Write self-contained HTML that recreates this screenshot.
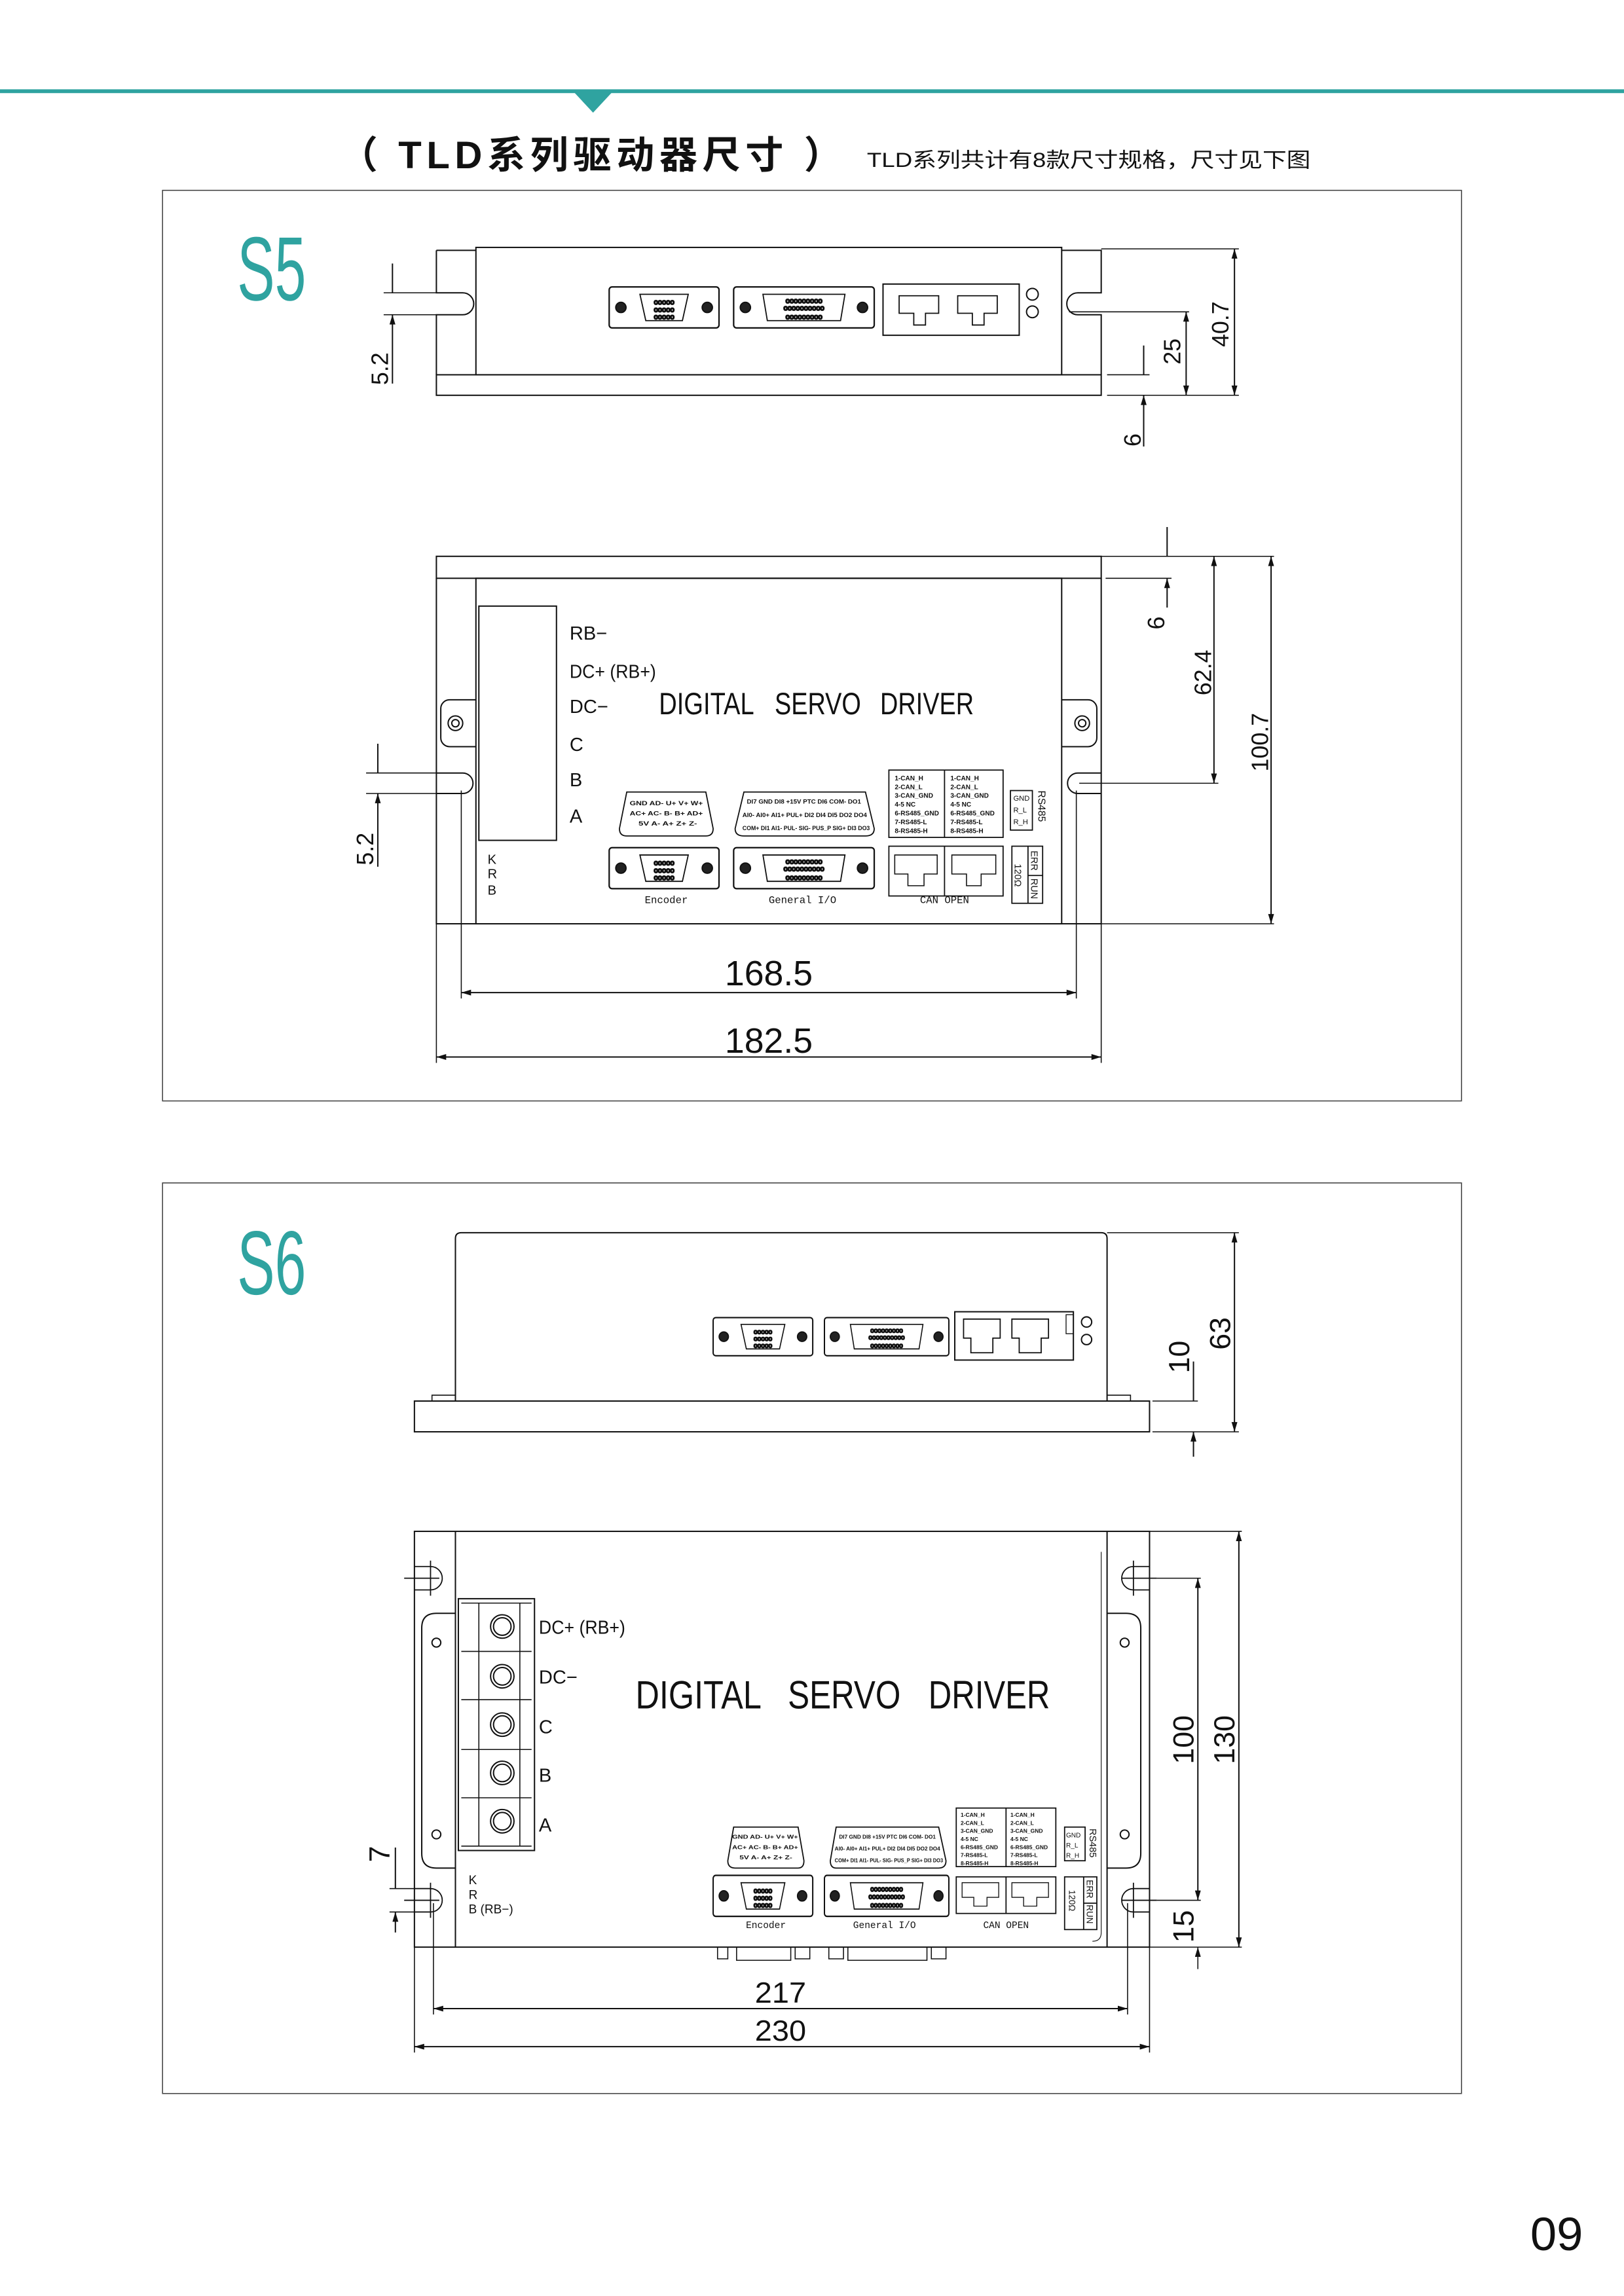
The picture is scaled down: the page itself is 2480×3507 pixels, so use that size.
<!DOCTYPE html>
<html><head><meta charset="utf-8"><style>
html,body{margin:0;padding:0;background:#fff}
svg{display:block}
text{font-family:"Liberation Sans","Noto Sans CJK SC",sans-serif;fill:#111}
</style></head><body>
<svg width="2480" height="3507" viewBox="0 0 1109 1568.3" preserveAspectRatio="none" xmlns="http://www.w3.org/2000/svg">
<defs>
<marker id="a" viewBox="0 0 10 6" refX="10" refY="3" markerWidth="8" markerHeight="4" orient="auto-start-reverse" markerUnits="userSpaceOnUse"><path d="M0,0 L10,3 L0,6z" fill="#111"/></marker>
<g id="db9">
 <rect x="0" y="0" width="75" height="28" rx="2" fill="#fff" stroke="#111" stroke-width="1"/>
 <circle cx="8" cy="14" r="3.5" fill="#222"/><circle cx="67" cy="14" r="3.5" fill="#222"/>
 <path d="M21,5 L54,5 L50,23 L25,23z" fill="none" stroke="#111" stroke-width="0.8"/>
 <text x="37.5" y="12" font-size="5" text-anchor="middle">ooooo</text>
 <text x="37.5" y="17" font-size="5" text-anchor="middle">ooooo</text>
 <text x="37.5" y="22" font-size="5" text-anchor="middle">ooooo</text>
</g>
<g id="db25">
 <rect x="0" y="0" width="96" height="28" rx="2" fill="#fff" stroke="#111" stroke-width="1"/>
 <circle cx="8" cy="14" r="3.5" fill="#222"/><circle cx="88" cy="14" r="3.5" fill="#222"/>
 <path d="M20,5 L76,5 L73,23 L23,23z" fill="none" stroke="#111" stroke-width="0.8"/>
 <text x="48" y="11" font-size="5" text-anchor="middle">ooooooooo</text>
 <text x="48" y="16" font-size="5" text-anchor="middle">oooooooooo</text>
 <text x="48" y="22" font-size="5" text-anchor="middle">ooooooooo</text>
</g>
</defs>
<g stroke="#111" fill="none" stroke-width="0.9">
<rect x="0" y="61" width="1109" height="2.6" fill="#2fa3a0" stroke="none"/>
<path d="M392,63 L418,63 L405,77z" fill="#2fa3a0" stroke="none"/>
<rect x="111" y="130" width="887" height="622" stroke="#444" stroke-width="0.7"/>
<rect x="111" y="808" width="887" height="622" stroke="#444" stroke-width="0.7"/>

<!-- S5 top view -->
<rect x="325" y="169" width="400" height="87"/>
<path d="M298,171 H325 M298,171 V200 H316 A7,7 0 0 1 316,215 H298 V256"/>
<path d="M725,171 H752 V200 H736 A7,7 0 0 0 736,215 H752 V256"/>
<rect x="298" y="256" width="454" height="14"/>
<use href="#db9" x="416" y="196"/>
<use href="#db25" x="501" y="196"/>
<path d="M603,194 H696 V229 H603z"/>
<path d="M614,202 H641 V214 H632 V222 H624 V214 H614z M654,202 H681 V214 H672 V222 H664 V214 H654z" stroke-width="0.8"/>
<circle cx="705" cy="201" r="4"/><circle cx="705" cy="213" r="4"/>
<path d="M268,180 V200 M268,262 V215" marker-end="url(#a)"/>
<path d="M262,200 H298 M262,215 H298" stroke-width="0.7"/>
<path d="M752,170 H846 M756,270 H846 M730,213 H812 M756,256 H785" stroke-width="0.7"/>
<path d="M843,170 V270" marker-start="url(#a)" marker-end="url(#a)"/>
<path d="M810,213 V270" marker-start="url(#a)" marker-end="url(#a)"/>
<path d="M781,236 V256 M781,305 V270" marker-end="url(#a)"/>

<!-- S5 front -->
<rect x="298" y="380" width="454" height="15"/>
<rect x="325" y="395" width="400" height="236"/>
<path d="M298,395 V631 H325 M752,395 V631 H725"/>
<path d="M325,478 H307 A6,6 0 0 0 301,484 V504 A6,6 0 0 0 307,510 H325"/>
<circle cx="311" cy="494" r="5"/><circle cx="311" cy="494" r="2.5"/>
<path d="M725,478 H743 A6,6 0 0 1 749,484 V504 A6,6 0 0 1 743,510 H725"/>
<circle cx="739" cy="494" r="5"/><circle cx="739" cy="494" r="2.5"/>
<path d="M298,528 H316 A7,7 0 0 1 316,542 H298"/>
<path d="M752,528 H736 A7,7 0 0 0 736,542 H752"/>
<rect x="327" y="414" width="53" height="160"/>
<path d="M428,541 H482 L487,566 Q487,571 482,571 H428 Q423,571 423,566z" stroke-width="0.8"/>
<path d="M508,541 H591 L597,566 Q597,571 591,571 H508 Q502,571 502,566z" stroke-width="0.8"/>
<rect x="607" y="526" width="78" height="46" stroke-width="0.8"/><path d="M645,526 V572" stroke-width="0.8"/>
<rect x="690" y="540" width="15" height="27" stroke-width="0.8"/>
<use href="#db9" x="416" y="579"/>
<use href="#db25" x="501" y="579"/>
<rect x="607" y="578" width="78" height="34" stroke-width="0.8"/><path d="M645,578 V612" stroke-width="0.8"/>
<path d="M611,584 H640 V597 H631 V605 H620 V597 H611z M650,584 H680 V597 H670 V605 H660 V597 H650z" stroke-width="0.7"/>
<rect x="691" y="578" width="21" height="39" stroke-width="0.8"/><path d="M702,578 V617 M702,598 H712" stroke-width="0.8"/>
<path d="M755,380 H800 M755,395 H800 M752,380 H870 M737,535 H832 M752,631 H870" stroke-width="0.7"/>
<path d="M797,360 V380 M797,415 V395" marker-end="url(#a)"/>
<path d="M829,380 V535" marker-start="url(#a)" marker-end="url(#a)"/>
<path d="M868,380 V631" marker-start="url(#a)" marker-end="url(#a)"/>
<path d="M250,528 H298 M250,542 H298" stroke-width="0.7"/>
<path d="M258,508 V528 M258,592 V542" marker-end="url(#a)"/>
<path d="M315,540 V682 M735,540 V682 M298,631 V726 M752,631 V726" stroke-width="0.7"/>
<path d="M315,678 H735" marker-start="url(#a)" marker-end="url(#a)"/>
<path d="M298,722 H752" marker-start="url(#a)" marker-end="url(#a)"/>

<!-- S6 top -->
<path d="M311,957 V846 Q311,842 315,842 H752 Q756,842 756,846 V957"/>
<path d="M295,957 V953 H311 M756,953 H772 V957" stroke-width="0.7"/>
<rect x="283" y="957" width="502" height="21"/>
<use href="#db9" transform="translate(487,900) scale(0.9067,0.93)"/>
<use href="#db25" transform="translate(563,900) scale(0.885,0.93)"/>
<rect x="652" y="896" width="81" height="33"/>
<path d="M658,901 H683 V914 H678 V924 H663 V914 H658z M691,901 H716 V914 H711 V924 H696 V914 H691z" stroke-width="0.8"/>
<rect x="728" y="898" width="5" height="13" stroke-width="0.6"/>
<circle cx="742" cy="903" r="3.5"/><circle cx="742" cy="915" r="3.5"/>
<path d="M756,842 H846 M787,957 H818 M787,978 H846" stroke-width="0.7"/>
<path d="M843,842 V978" marker-start="url(#a)" marker-end="url(#a)"/>
<path d="M815,930 V957 M815,995 V978" marker-end="url(#a)"/>

<!-- S6 front -->
<rect x="283" y="1046" width="502" height="284"/>
<path d="M311,1046 V1330 M756,1046 V1330"/>
<path d="M311,1102 H298 Q288,1102 288,1112 V1266 Q288,1276 298,1276 H311"/>
<path d="M756,1102 H769 Q779,1102 779,1112 V1266 Q779,1276 769,1276 H756"/>
<circle cx="298" cy="1122" r="3"/><circle cx="298" cy="1253" r="3"/>
<circle cx="768" cy="1122" r="3"/><circle cx="768" cy="1253" r="3"/>
<path d="M283,1070 H294 A8,8 0 0 1 294,1086 H283 M276,1078 H300 M294,1066 V1090" stroke-width="0.8"/>
<path d="M283,1290 H294 A8,8 0 0 1 294,1306 H283 M276,1298 H300 M294,1286 V1310" stroke-width="0.8"/>
<path d="M785,1070 H774 A8,8 0 0 0 774,1086 H785 M766,1078 H790 M774,1066 V1090" stroke-width="0.8"/>
<path d="M785,1290 H774 A8,8 0 0 0 774,1306 H785 M766,1298 H790 M774,1286 V1310" stroke-width="0.8"/>
<rect x="313" y="1092" width="52" height="172"/>
<path d="M315,1095 H363 M315,1128 H363 M315,1161 H363 M315,1195 H363 M315,1228 H363 M315,1261 H363 M327,1095 V1261 M355,1095 V1261" stroke-width="0.7"/>
<circle cx="343" cy="1111" r="8"/><circle cx="343" cy="1111" r="6"/>
<circle cx="343" cy="1145" r="8"/><circle cx="343" cy="1145" r="6"/>
<circle cx="343" cy="1178" r="8"/><circle cx="343" cy="1178" r="6"/>
<circle cx="343" cy="1211" r="8"/><circle cx="343" cy="1211" r="6"/>
<circle cx="343" cy="1244" r="8"/><circle cx="343" cy="1244" r="6"/>
<path d="M501,1248 H545 L549,1271 Q549,1276 545,1276 H502 Q497,1276 497,1271z" stroke-width="0.8"/>
<path d="M571,1248 H641 L646,1271 Q646,1276 641,1276 H571 Q567,1276 567,1271z" stroke-width="0.8"/>
<rect x="653" y="1235" width="68" height="40" stroke-width="0.8"/><path d="M687,1235 V1275" stroke-width="0.8"/>
<rect x="727" y="1248" width="14" height="23" stroke-width="0.8"/>
<use href="#db9" transform="translate(487,1281) scale(0.9067,1)"/>
<use href="#db25" transform="translate(563,1281) scale(0.885,1)"/>
<rect x="653" y="1282" width="68" height="25" stroke-width="0.8"/><path d="M687,1282 V1307" stroke-width="0.8"/>
<path d="M657,1286 H682 V1296 H674 V1302 H665 V1296 H657z M691,1286 H716 V1296 H708 V1302 H699 V1296 H691z" stroke-width="0.6"/>
<rect x="727" y="1282" width="22" height="36" stroke-width="0.8"/><path d="M740,1282 V1318 M740,1300 H749" stroke-width="0.8"/>
<path d="M752,1060 V1320 Q752,1326 746,1326" stroke-width="0.5"/>
<path d="M490,1330 V1338 H497 V1330 M503,1330 V1339 H540 V1330 M543,1330 V1338 H553 V1330 M566,1330 V1338 H576 V1330 M579,1330 V1339 H633 V1330 M636,1330 V1338 H646 V1330" stroke-width="0.7"/>
<path d="M270,1262 V1290 M270,1320 V1306" marker-end="url(#a)"/>
<path d="M266,1290 H283 M266,1306 H283" stroke-width="0.7"/>
<path d="M785,1046 H848 M790,1078 H820 M790,1298 H820 M785,1330 H848" stroke-width="0.7"/>
<path d="M846,1046 V1330" marker-start="url(#a)" marker-end="url(#a)"/>
<path d="M818,1078 V1298" marker-start="url(#a)" marker-end="url(#a)"/>
<path d="M818,1345 V1330" marker-end="url(#a)" stroke-width="0.7"/>
<path d="M296,1300 V1376 M770,1300 V1376 M283,1330 V1402 M785,1330 V1402" stroke-width="0.7"/>
<path d="M296,1372 H770" marker-start="url(#a)" marker-end="url(#a)"/>
<path d="M283,1398 H785" marker-start="url(#a)" marker-end="url(#a)"/>
</g>

<!-- TEXT -->
<text x="232" y="115" font-size="26" font-weight="bold" textLength="343" lengthAdjust="spacing" fill="#222">（ TLD系列驱动器尺寸 ）</text>
<text x="592" y="114" font-size="14" textLength="303" lengthAdjust="spacingAndGlyphs" fill="#222">TLD系列共计有8款尺寸规格，尺寸见下图</text>
<text x="162" y="205" font-size="62" textLength="47" lengthAdjust="spacingAndGlyphs" style="fill:#2fa3a0">S5</text>
<text x="162" y="884" font-size="62" textLength="47" lengthAdjust="spacingAndGlyphs" style="fill:#2fa3a0">S6</text>

<g font-size="16">
<text transform="translate(265,263) rotate(-90)">5.2</text>
<text transform="translate(806,249) rotate(-90)">25</text>
<text transform="translate(839,237) rotate(-90)">40.7</text>
<text transform="translate(779,305) rotate(-90)">6</text>
<text transform="translate(795,430) rotate(-90)">6</text>
<text transform="translate(827,475) rotate(-90)">62.4</text>
<text transform="translate(866,527) rotate(-90)">100.7</text>
<text transform="translate(255,591) rotate(-90)">5.2</text>
</g>
<g font-size="24">
<text x="525" y="673" text-anchor="middle">168.5</text>
<text x="525" y="719" text-anchor="middle">182.5</text>
</g>
<g font-size="20">
<text x="533" y="1368" text-anchor="middle" textLength="35" lengthAdjust="spacingAndGlyphs">217</text>
<text x="533" y="1394" text-anchor="middle" textLength="35" lengthAdjust="spacingAndGlyphs">230</text>
<text transform="translate(812,938) rotate(-90)">10</text>
<text transform="translate(840,922) rotate(-90)">63</text>
<text transform="translate(815,1205) rotate(-90)">100</text>
<text transform="translate(843,1205) rotate(-90)">130</text>
<text transform="translate(815,1327) rotate(-90)">15</text>
<text transform="translate(266,1272) rotate(-90)">7</text>
</g>

<g font-size="13">
<text x="389" y="437">RB−</text>
<text x="389" y="463" textLength="59" lengthAdjust="spacingAndGlyphs">DC+ (RB+)</text>
<text x="389" y="487">DC−</text>
<text x="389" y="513">C</text>
<text x="389" y="537">B</text>
<text x="389" y="562">A</text>
</g>
<g font-size="21">
<text x="450" y="488" textLength="65" lengthAdjust="spacingAndGlyphs">DIGITAL</text>
<text x="529" y="488" textLength="59" lengthAdjust="spacingAndGlyphs">SERVO</text>
<text x="601" y="488" textLength="64" lengthAdjust="spacingAndGlyphs">DRIVER</text>
</g>
<g font-size="9"><text x="333" y="590">K</text><text x="333" y="600">R</text><text x="333" y="611">B</text></g>
<g font-size="4.2" font-weight="bold">
<text x="430" y="550" textLength="50" lengthAdjust="spacingAndGlyphs">GND AD- U+ V+ W+</text>
<text x="430" y="557" textLength="50" lengthAdjust="spacingAndGlyphs">AC+ AC- B- B+ AD+</text>
<text x="436" y="564" textLength="40" lengthAdjust="spacingAndGlyphs">5V A- A+ Z+ Z-</text>
<text x="510" y="549" textLength="78" lengthAdjust="spacingAndGlyphs">DI7 GND DI8 +15V PTC DI6 COM- DO1</text>
<text x="507" y="558" textLength="85" lengthAdjust="spacingAndGlyphs">AI0- AI0+ AI1+ PUL+ DI2 DI4 DI5 DO2 DO4</text>
<text x="507" y="567" textLength="87" lengthAdjust="spacingAndGlyphs">COM+ DI1 AI1- PUL- SIG- PUS_P SIG+ DI3 DO3</text>
</g>
<g font-size="4.5" font-weight="bold">
<text x="611" y="533">1-CAN_H</text><text x="611" y="539">2-CAN_L</text><text x="611" y="545">3-CAN_GND</text><text x="611" y="551">4-5 NC</text><text x="611" y="557">6-RS485_GND</text><text x="611" y="563">7-RS485-L</text><text x="611" y="569">8-RS485-H</text>
<text x="649" y="533">1-CAN_H</text><text x="649" y="539">2-CAN_L</text><text x="649" y="545">3-CAN_GND</text><text x="649" y="551">4-5 NC</text><text x="649" y="557">6-RS485_GND</text><text x="649" y="563">7-RS485-L</text><text x="649" y="569">8-RS485-H</text>
</g>
<g font-size="5"><text x="692" y="547">GND</text><text x="692" y="555">R_L</text><text x="692" y="563">R_H</text></g>
<text transform="translate(709,540) rotate(90)" font-size="7">RS485</text>
<text transform="translate(704,581) rotate(90)" font-size="6.5">ERR</text>
<text transform="translate(704,600) rotate(90)" font-size="6.5">RUN</text>
<text transform="translate(693,590) rotate(90)" font-size="6.5">120Ω</text>
<text x="455" y="617" font-size="7" text-anchor="middle" style="font-family:'Liberation Mono',monospace">Encoder</text>
<text x="548" y="617" font-size="7" text-anchor="middle" style="font-family:'Liberation Mono',monospace">General I/O</text>
<text x="645" y="617" font-size="7" text-anchor="middle" style="font-family:'Liberation Mono',monospace">CAN OPEN</text>

<g font-size="13">
<text x="368" y="1116" textLength="59" lengthAdjust="spacingAndGlyphs">DC+ (RB+)</text>
<text x="368" y="1150">DC−</text>
<text x="368" y="1184">C</text>
<text x="368" y="1217">B</text>
<text x="368" y="1251">A</text>
</g>
<g font-size="27">
<text x="434" y="1167" textLength="86" lengthAdjust="spacingAndGlyphs">DIGITAL</text>
<text x="538" y="1167" textLength="77" lengthAdjust="spacingAndGlyphs">SERVO</text>
<text x="634" y="1167" textLength="83" lengthAdjust="spacingAndGlyphs">DRIVER</text>
</g>
<g font-size="8.5"><text x="320" y="1287">K</text><text x="320" y="1297">R</text><text x="320" y="1307">B (RB−)</text></g>
<g font-size="3.8" font-weight="bold">
<text x="500" y="1256" textLength="45" lengthAdjust="spacingAndGlyphs">GND AD- U+ V+ W+</text>
<text x="500" y="1263" textLength="45" lengthAdjust="spacingAndGlyphs">AC+ AC- B- B+ AD+</text>
<text x="505" y="1270" textLength="36" lengthAdjust="spacingAndGlyphs">5V A- A+ Z+ Z-</text>
<text x="573" y="1256" textLength="66" lengthAdjust="spacingAndGlyphs">DI7 GND DI8 +15V PTC DI6 COM- DO1</text>
<text x="570" y="1264" textLength="72" lengthAdjust="spacingAndGlyphs">AI0- AI0+ AI1+ PUL+ DI2 DI4 DI5 DO2 DO4</text>
<text x="570" y="1272" textLength="74" lengthAdjust="spacingAndGlyphs">COM+ DI1 AI1- PUL- SIG- PUS_P SIG+ DI3 DO3</text>
<text x="656" y="1241">1-CAN_H</text><text x="656" y="1246.5">2-CAN_L</text><text x="656" y="1252">3-CAN_GND</text><text x="656" y="1257.5">4-5 NC</text><text x="656" y="1263">6-RS485_GND</text><text x="656" y="1268.5">7-RS485-L</text><text x="656" y="1274">8-RS485-H</text>
<text x="690" y="1241">1-CAN_H</text><text x="690" y="1246.5">2-CAN_L</text><text x="690" y="1252">3-CAN_GND</text><text x="690" y="1257.5">4-5 NC</text><text x="690" y="1263">6-RS485_GND</text><text x="690" y="1268.5">7-RS485-L</text><text x="690" y="1274">8-RS485-H</text>
</g>
<g font-size="4.5"><text x="728" y="1255">GND</text><text x="728" y="1262">R_L</text><text x="728" y="1269">R_H</text></g>
<text transform="translate(744,1249) rotate(90)" font-size="6.5">RS485</text>
<text transform="translate(742,1284) rotate(90)" font-size="6">ERR</text>
<text transform="translate(742,1301) rotate(90)" font-size="6">RUN</text>
<text transform="translate(730,1291) rotate(90)" font-size="6">120Ω</text>
<text x="523" y="1317" font-size="6.5" text-anchor="middle" style="font-family:'Liberation Mono',monospace">Encoder</text>
<text x="604" y="1317" font-size="6.5" text-anchor="middle" style="font-family:'Liberation Mono',monospace">General I/O</text>
<text x="687" y="1317" font-size="6.5" text-anchor="middle" style="font-family:'Liberation Mono',monospace">CAN OPEN</text>

<text x="1045" y="1537" font-size="32" textLength="36" lengthAdjust="spacingAndGlyphs">09</text>
</svg>
</body></html>
